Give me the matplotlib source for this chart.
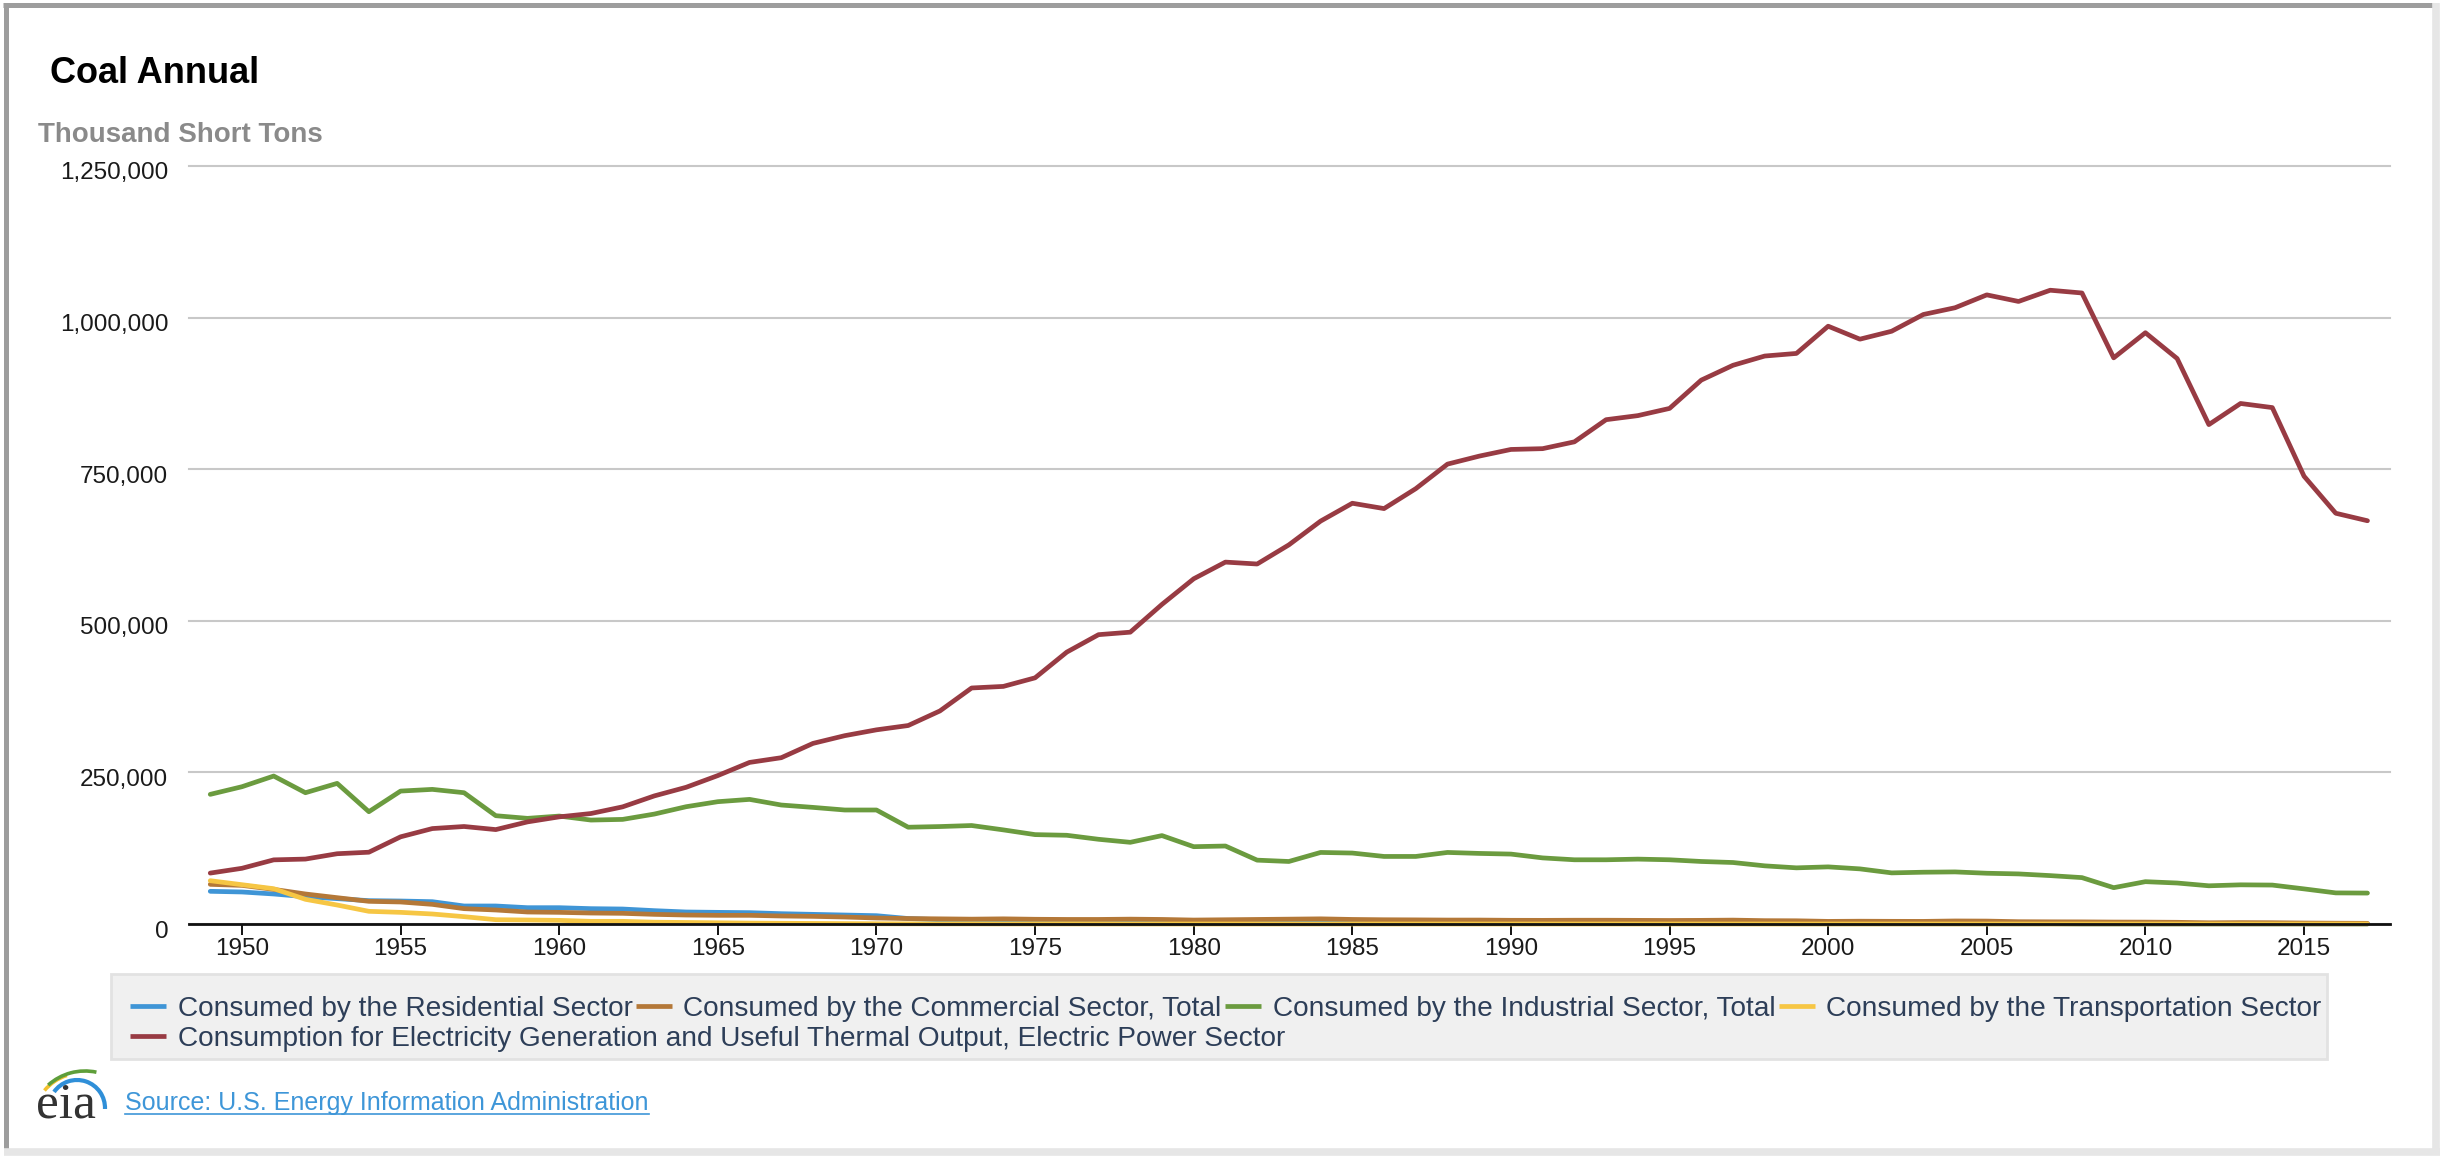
"""Coal Annual: US coal consumption by sector, 1949-2017 (EIA style chart)."""
import matplotlib
matplotlib.use('Agg')
import matplotlib.pyplot as plt
from matplotlib.patches import Arc, Rectangle
from matplotlib.transforms import ScaledTranslation

plt.rcParams['font.family'] = ['Liberation Sans', 'DejaVu Sans']

# ---- data (thousand short tons) ----
years = list(range(1949, 2018))

residential = [
    53900, 52800, 49500, 45000, 41800, 38500, 37900, 36800, 29700, 29700,
    26900, 26900, 25300, 24700, 22000, 19800, 19200, 18700, 17000, 15900,
    14800, 13700, 9000, 7000, 5500, 5000, 2800, 2700, 2500, 2200,
    1500, 1400, 1500, 1600, 1700, 1800, 1700, 1600, 1500, 1500,
    1400, 1300, 1200, 1100, 1000, 900, 800, 700, 600, 600,
    500, 450, 500, 400, 400, 400, 380, 300, 350, 0,
    0, 0, 0, 0, 0, 0, 0, 0, 0,
]
commercial = [
    65400, 63700, 57100, 49500, 43400, 37400, 36300, 32400, 25300, 23100,
    19800, 19200, 18100, 17600, 15900, 14800, 14300, 14300, 13200, 12600,
    11500, 9900, 9000, 8500, 8000, 8500, 7800, 7500, 7500, 8000,
    7500, 6500, 7000, 7500, 8000, 8500, 7500, 7000, 6800, 6500,
    6500, 6100, 6000, 6200, 6200, 6000, 5800, 6000, 6400, 5500,
    5300, 4300, 4600, 4400, 4300, 5000, 4800, 3800, 3600, 3500,
    3200, 3100, 2800, 2000, 2300, 2100, 1600, 1300, 1100,
]
industrial = [
    213800, 226400, 244000, 216500, 231900, 185200, 219200, 222000, 216500, 178600,
    174200, 178000, 171400, 172500, 181300, 193400, 201700, 205500, 196200, 192300,
    188000, 188000, 159600, 160700, 162400, 155200, 147400, 146300, 139700, 134700,
    145800, 127500, 128600, 105300, 103100, 118000, 117000, 111400, 111400, 118000,
    116400, 115300, 109000, 105900, 105900, 107000, 105900, 103100, 101400, 95900,
    92600, 94200, 90900, 84300, 85400, 85900, 83700, 82600, 79800, 76500,
    59900, 69800, 67600, 63000, 64600, 64200, 57900, 51300, 51000,
]
transportation = [
    71400, 64800, 58200, 40700, 31300, 20900, 19200, 16500, 12100, 7100,
    6600, 6000, 4400, 4400, 3000, 2500, 2000, 1500, 1200, 900,
    600, 400, 300, 200, 200, 100, 100, 100, 50, 0,
    0, 0, 0, 0, 0, 0, 0, 0, 0, 0,
    0, 0, 0, 0, 0, 0, 0, 0, 0, 0,
    0, 0, 0, 0, 0, 0, 0, 0, 0, 0,
    0, 0, 0, 0, 0, 0, 0, 0, 0,
]
electric = [
    83963, 91871, 105768, 107071, 115880, 118385, 143759, 157374, 160783, 155688,
    168388, 176685, 182192, 193212, 211274, 225432, 244788, 266458, 274242, 297836,
    310561, 320182, 327307, 351340, 389212, 391811, 405962, 448371, 477126, 481235,
    527051, 569274, 596797, 593666, 625211, 664399, 693841, 685056, 717894, 758372,
    771551, 782567, 783883, 795123, 831645, 838354, 850230, 896921, 921364, 936619,
    940922, 985821, 964433, 977507, 1005116, 1016268, 1037485, 1026636, 1045141, 1040580,
    933627, 975052, 932484, 823551, 858386, 851602, 738444, 677371, 664991,
]

series_names = [
    'Consumed by the Residential Sector',
    'Consumed by the Commercial Sector, Total',
    'Consumed by the Industrial Sector, Total',
    'Consumed by the Transportation Sector',
    'Consumption for Electricity Generation and Useful Thermal Output, Electric Power Sector',
]
series_values = [residential, commercial, industrial, transportation, electric]
series_colors = ['#3f95d6', '#b47838', '#6b9b3f', '#f6c644', '#983b43']

yticks = [0, 250000, 500000, 750000, 1000000, 1250000]
xticks = list(range(1950, 2016, 5))

# ---- figure ----
W, H = 2448, 1158
fig = plt.figure(figsize=(W / 100, H / 100), dpi=100)
fig.patch.set_facecolor('white')

# pixel-space overlay (y downwards) for frame, titles, legend and logo
deco = fig.add_axes([0, 0, 1, 1], zorder=0)
deco.set_xlim(0, W)
deco.set_ylim(H, 0)
deco.axis('off')

# frame
deco.plot([6, 6], [3, 1153], color='#9d9d9d', lw=3.6, solid_capstyle='butt')
deco.plot([3, 2437], [5, 5], color='#9d9d9d', lw=3.6, solid_capstyle='butt')
deco.plot([2436, 2436], [3, 1153], color='#e6e6e6', lw=5.5, solid_capstyle='butt')
deco.plot([4, 2440], [1152, 1152], color='#e6e6e6', lw=5.5, solid_capstyle='butt')

deco.text(49.5, 83, 'Coal Annual', fontsize=26, fontweight='bold', color='black', va='baseline')
deco.text(38, 141.5, 'Thousand Short Tons', fontsize=20, fontweight='bold',
          color='#8a8a8a', va='baseline')

# ---- chart ----
ax = fig.add_axes([189 / W, 1 - 924 / H, (2390 - 189) / W, (924 - 166) / H], zorder=1)
ax.patch.set_alpha(0)

for i, (vals, color) in enumerate(zip(series_values, series_colors)):
    ax.plot(years, vals, color=color, lw=3.4, clip_on=False, zorder=3 + i,
            solid_joinstyle='round', solid_capstyle='round')

ax.set_xlim(1948.33, 2017.71)
ax.set_ylim(0, 1250000)
ax.set_yticks(yticks, [f'{v:,}' for v in yticks])
ax.set_xticks(xticks)
for s in ('left', 'right', 'top'):
    ax.spines[s].set_visible(False)
ax.spines['bottom'].set_color('#111111')
ax.spines['bottom'].set_linewidth(2.0)
ax.spines['bottom'].set_zorder(10)
ax.tick_params(axis='y', length=0, pad=15, labelsize=17.5, labelcolor='#1a1a1a')
ax.tick_params(axis='x', length=8, width=1.4, color='#111111', pad=2,
               labelsize=17.5, labelcolor='#1a1a1a', direction='out')
ax.grid(axis='y', color='#c8c8c8', lw=1.5)
ax.set_axisbelow(True)
for gl in ax.get_ygridlines():
    gl.set_clip_on(False)
shift = ScaledTranslation(0, -5 / 100, fig.dpi_scale_trans)
for lab in ax.get_yticklabels():
    lab.set_transform(lab.get_transform() + shift)

# ---- legend (flowing rows like the original) ----
renderer = fig.canvas.get_renderer()
legend_color = '#2d3e58'


def legend_row(entries, x, y_mid, y_base):
    for name, color in entries:
        deco.plot([x, x + 36], [y_mid, y_mid], color=color, lw=3.4,
                  solid_capstyle='butt', zorder=3)
        t = deco.text(x + 47.5, y_base, name, fontsize=20.2, color=legend_color,
                      va='baseline', zorder=3)
        x = t.get_window_extent(renderer).x1 + 3.5
    return x


items = list(zip(series_names, series_colors))
end1 = legend_row(items[:4], 130, 1005.5, 1016)
end2 = legend_row(items[4:], 130, 1036, 1046)
box_right = max(end1, end2) + 2
deco.add_patch(Rectangle((111, 974), box_right - 111, 85, facecolor='#f0f0f0',
                         edgecolor='#e2e2e2', lw=2, zorder=1))

# ---- source line and logo ----
src = deco.text(125, 1110, 'Source: U.S. Energy Information Administration', fontsize=18,
                color='#3e96d8', va='baseline')
bb = src.get_window_extent(renderer)
deco.plot([bb.x0, bb.x1], [1113.5, 1113.5], color='#3e96d8', lw=1.2)

deco.text(36, 1118, 'eia', family=['Liberation Serif', 'DejaVu Serif'], fontsize=37,
          color='#333333', va='baseline')
deco.add_patch(Arc((82, 1122), 98, 98, theta1=220, theta2=252, color='#f2c12e', lw=2.6))
deco.add_patch(Arc((85, 1126), 110, 110, theta1=228, theta2=282, color='#5e9e3a', lw=2.6))
deco.add_patch(Arc((77, 1108), 56, 56, theta1=215, theta2=362, color='#2f8fd8', lw=3.0))

fig.savefig('out.png', dpi=100)
